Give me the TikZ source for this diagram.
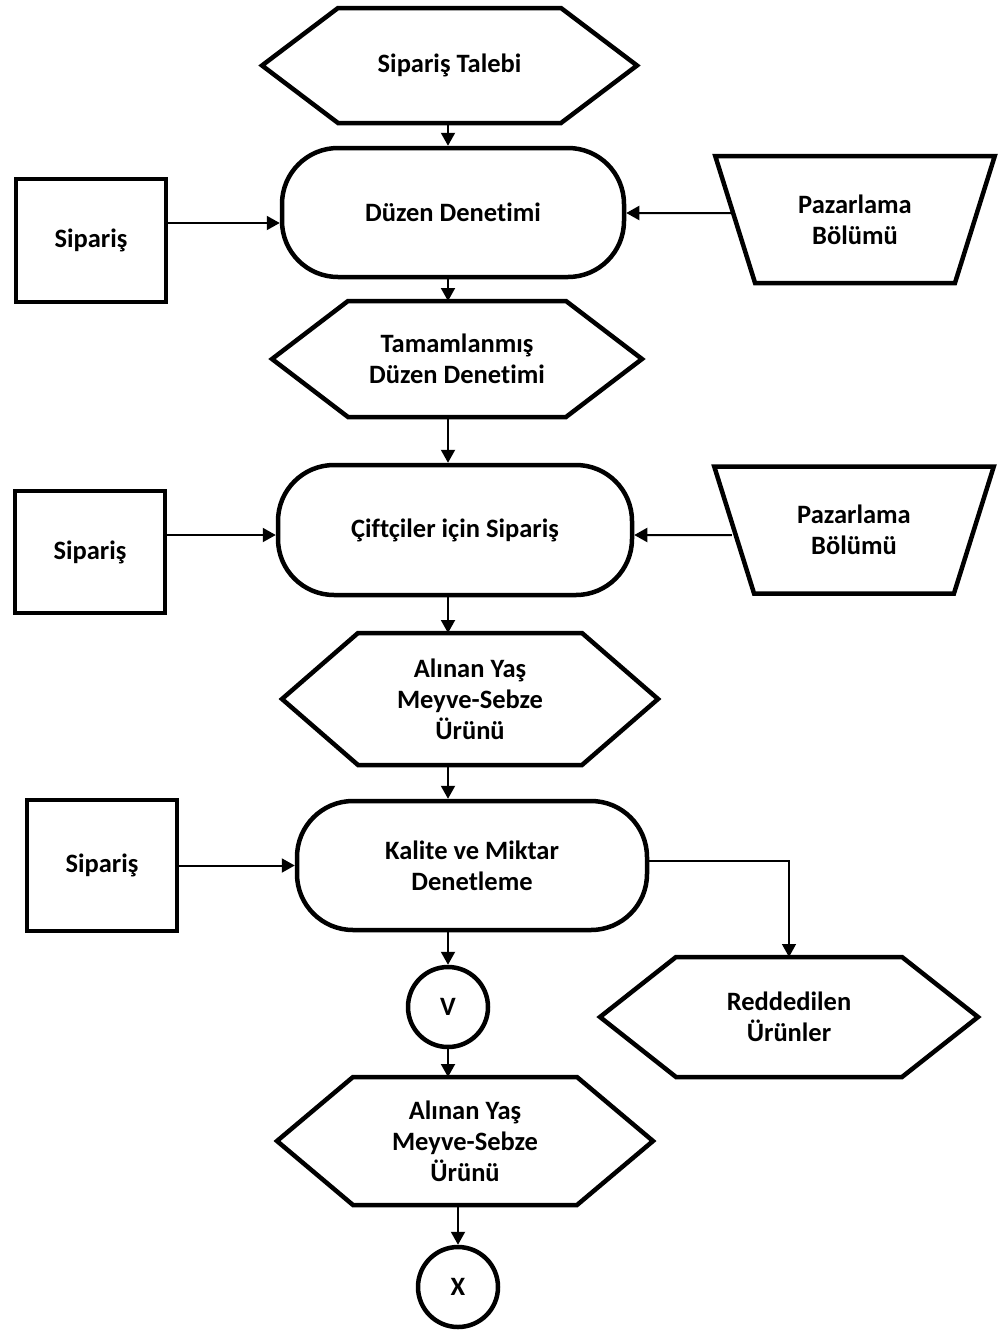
\documentclass[tikz,border=0pt]{standalone}
\usepackage{fontspec}
\setsansfont{Carlito}[Ligatures=NoCommon]
\usetikzlibrary{arrows.meta, shapes.geometric}

\begin{document}
\begin{tikzpicture}[
    x=1pt, y=-1pt,
    % Node styles
    hexblock/.style={
        rectangle,
        inner sep=0pt,
        outer sep=0pt,
        font=\sffamily\bfseries\fontsize{26.5}{31}\selectfont,
        align=center,
        append after command={\pgfextra{
            \draw[line width=4.5pt, line join=miter]
                (\tikzlastnode.west) -- ([xshift=76pt]\tikzlastnode.north west)
                -- ([xshift=-76pt]\tikzlastnode.north east) -- (\tikzlastnode.east)
                -- ([xshift=-76pt]\tikzlastnode.south east)
                -- ([xshift=76pt]\tikzlastnode.south west) -- cycle;
        }}
    },
    procblock/.style={
        rectangle,
        rounded corners=56pt,
        draw,
        line width=4.5pt,
        font=\sffamily\bfseries\fontsize{26.5}{31}\selectfont,
        align=center
    },
    srcblock/.style={
        rectangle,
        draw,
        line width=4.5pt,
        minimum width=150pt,
        font=\sffamily\bfseries\fontsize{26.5}{31}\selectfont
    },
    deptblock/.style={
        trapezium,
        trapezium angle=113,
        trapezium stretches=true,
        draw,
        line width=4.5pt,
        minimum width=280pt,
        minimum height=127pt,
        font=\sffamily\bfseries\fontsize{26.5}{31}\selectfont,
        align=center
    },
    conblock/.style={
        circle,
        draw,
        line width=4.5pt,
        minimum size=80pt,
        inner sep=0pt,
        font=\sffamily\bfseries\fontsize{26.5}{31}\selectfont
    },
    arrow/.style={
        -{Triangle[length=13pt, width=14pt]},
        line width=2pt
    },
    thinarrow/.style={
        -{Triangle[length=13pt, width=14pt]},
        line width=1.3pt
    }
]
    \useasboundingbox (0, 0) rectangle (1004, 1331);

    % ==== MAIN FLOW ====
    \node[hexblock, minimum width=375pt, minimum height=115pt] (talep) at (449.5, 65.5) {Sipariş Talebi};
    \node[procblock, minimum width=342pt, minimum height=129pt] (duzen) at (453, 212.5) {Düzen Denetimi};
    \node[hexblock, minimum width=370pt, minimum height=116pt] (tamam) at (457, 359) {Tamamlanmış\\Düzen Denetimi};
    \node[procblock, minimum width=354pt, minimum height=130pt] (ciftci) at (455, 530) {Çiftçiler için Sipariş};
    \node[hexblock, minimum width=376pt, minimum height=132pt] (urun1) at (470, 699) {Alınan Yaş\\Meyve-Sebze\\Ürünü};
    \node[procblock, minimum width=350pt, minimum height=129pt] (kalite) at (472, 865.5) {Kalite ve Miktar\\Denetleme};
    \node[conblock] (vnode) at (448, 1007) {V};
    \node[hexblock, minimum width=376pt, minimum height=128pt] (urun2) at (465, 1141) {Alınan Yaş\\Meyve-Sebze\\Ürünü};
    \node[conblock] (xnode) at (458, 1287) {X};

    % Main flow arrows
    \draw[arrow] (talep.south -| vnode) -- (duzen.north -| vnode);
    \draw[arrow] (duzen.south -| vnode) -- (tamam.north -| vnode);
    \draw[arrow] (tamam.south -| vnode) -- (ciftci.north -| vnode);
    \draw[arrow] (ciftci.south -| vnode) -- (urun1.north -| vnode);
    \draw[arrow] (urun1.south -| vnode) -- (kalite.north -| vnode);
    \draw[arrow] (kalite.south -| vnode) -- (vnode.north);
    \draw[arrow] (vnode.south) -- (urun2.north -| vnode);
    \draw[arrow] (urun2.south -| xnode) -- (xnode.north);

    % ==== SIDE INPUTS ====
    \node[srcblock, minimum height=123pt] (sip1) at (91, 240.5) {Sipariş};
    \node[deptblock] (paz1) at (855, 219.5) {Pazarlama\\Bölümü};
    \node[srcblock, minimum height=122pt] (sip2) at (90, 552) {Sipariş};
    \node[deptblock] (paz2) at (854, 530) {Pazarlama\\Bölümü};
    \node[srcblock, minimum height=131pt] (sip3) at (102, 865.5) {Sipariş};

    \draw[arrow] ([yshift=17.5pt]sip1.east) -- ([yshift=-10.5pt]duzen.west);
    \draw[arrow] ([yshift=6.5pt]paz1.west) -- ([yshift=-0.5pt]duzen.east);
    \draw[arrow] ([yshift=17pt]sip2.east) -- ([yshift=-5pt]ciftci.west);
    \draw[arrow] ([yshift=-5pt]paz2.west) -- ([yshift=-5pt]ciftci.east);
    \draw[arrow] (sip3) -- (kalite);

    % ==== REJECTED ====
    \node[hexblock, minimum width=378pt, minimum height=120pt] (red) at (789, 1017) {Reddedilen\\Ürünler};
    \draw[thinarrow] ([yshift=4.5pt]kalite.east) -| (red.north);

\end{tikzpicture}
\end{document}
